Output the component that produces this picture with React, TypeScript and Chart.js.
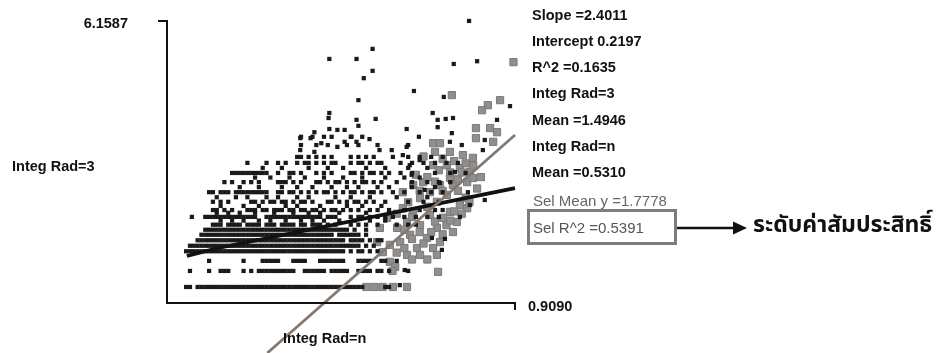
import React, { useEffect, useRef } from "react";
import { Chart, registerables } from "chart.js";
Chart.register(...registerables);

// ---------- axis extents ----------
const X_MAX = 0.909;
const Y_MAX = 6.1587;
const xAxisTitle = "Integ Rad=n";
const yAxisTitle = "Integ Rad=3";

// ---------- statistics panel ----------
const statLines = [
  "Slope =2.4011",
  "Intercept 0.2197",
  "R^2 =0.1635",
  "Integ Rad=3",
  "Mean =1.4946",
  "Integ Rad=n",
  "Mean =0.5310",
];
const selMeanText = "Sel Mean y =1.7778";
const selR2Text = "Sel R^2 =0.5391";
const thaiLabel = "ระดับค่าสัมประสิทธิ์";

// ---------- fit lines ----------
const fitX = [0.052, 0.128, 0.909];
const fitY = [1.026, 1.19, 2.511];
const selFitX = [0.262, 0.909];
const selFitY = [-1.092, 3.669];

// ---------- black points: horizontal rows (y level + x readings) ----------
const baseRows = [
  { y: 0.35, xs: [0.05,0.06,0.08,0.09,0.10,0.11,0.12,0.13,0.14,0.15,0.16,0.17,0.18,0.19,0.20,0.21,0.22,0.23,0.24,0.25,0.26,0.27,0.28,0.29,0.30,0.31,0.32,0.33,0.34,0.35,0.36,0.37,0.38,0.39,0.40,0.41,0.42,0.43,0.44,0.45,0.46,0.47,0.48,0.49,0.50,0.51,0.57,0.58] },
  { y: 0.70, xs: [0.06,0.11,0.14,0.15,0.16,0.20,0.22,0.24,0.25,0.26,0.27,0.28,0.29,0.30,0.31,0.32,0.33,0.36,0.37,0.38,0.39,0.40,0.41,0.43,0.44,0.45,0.46,0.47,0.50,0.51,0.52,0.53,0.55,0.56,0.58,0.63] },
  { y: 0.92, xs: [0.11,0.20,0.25,0.26,0.27,0.28,0.29,0.33,0.34,0.35,0.36,0.40,0.41,0.42,0.43,0.44,0.45,0.46,0.50,0.51,0.52,0.53,0.56,0.57,0.60] },
];

const bandRows = [
  { y: 1.13, xs: [0.05,0.06,0.07,0.08,0.09,0.10,0.11,0.12,0.13,0.14,0.15,0.16,0.17,0.18,0.19,0.20,0.21,0.22,0.23,0.24,0.25,0.26,0.27,0.28,0.29,0.30,0.31,0.32,0.33,0.34,0.35,0.36,0.37,0.38,0.39,0.40,0.41,0.42,0.43,0.44,0.45,0.46,0.48,0.50,0.51,0.53,0.55] },
  { y: 1.25, xs: [0.06,0.07,0.08,0.09,0.10,0.11,0.12,0.13,0.14,0.15,0.16,0.17,0.18,0.19,0.20,0.21,0.22,0.23,0.24,0.25,0.26,0.27,0.28,0.29,0.30,0.31,0.32,0.33,0.34,0.35,0.36,0.37,0.38,0.39,0.40,0.41,0.42,0.43,0.44,0.45,0.46,0.47,0.48,0.49,0.50,0.52,0.54] },
  { y: 1.37, xs: [0.08,0.09,0.10,0.11,0.12,0.13,0.14,0.15,0.16,0.17,0.18,0.19,0.20,0.21,0.22,0.23,0.24,0.25,0.26,0.27,0.28,0.29,0.30,0.31,0.32,0.33,0.34,0.35,0.36,0.37,0.38,0.39,0.40,0.41,0.42,0.43,0.44,0.45,0.46,0.48,0.49,0.50,0.51,0.53,0.55,0.56] },
  { y: 1.49, xs: [0.09,0.10,0.11,0.12,0.13,0.14,0.15,0.16,0.17,0.18,0.19,0.20,0.21,0.22,0.23,0.24,0.25,0.26,0.27,0.28,0.29,0.30,0.31,0.32,0.33,0.34,0.35,0.36,0.37,0.38,0.39,0.40,0.41,0.42,0.43,0.45,0.46,0.47,0.48,0.49,0.50,0.52] },
  { y: 1.60, xs: [0.10,0.11,0.12,0.13,0.14,0.15,0.16,0.17,0.18,0.19,0.20,0.21,0.22,0.23,0.24,0.25,0.26,0.27,0.28,0.29,0.30,0.31,0.32,0.33,0.34,0.35,0.36,0.37,0.38,0.39,0.40,0.41,0.42,0.43,0.44,0.45,0.46,0.47,0.49,0.52] },
  { y: 1.71, xs: [0.12,0.13,0.14,0.16,0.17,0.18,0.19,0.21,0.22,0.23,0.24,0.26,0.27,0.28,0.30,0.31,0.32,0.33,0.35,0.36,0.38,0.39,0.40,0.42,0.44,0.48,0.50,0.52,0.55,0.60,0.63,0.65] },
  { y: 1.80, xs: [0.14,0.17,0.20,0.24,0.27,0.31,0.35,0.38,0.41,0.45,0.49,0.53,0.57] },
];

const upperRows = [
  { y: 1.88, xs: [0.065,0.10,0.11,0.12,0.13,0.14,0.15,0.16,0.17,0.18,0.19,0.20,0.21,0.22,0.23,0.26,0.27,0.28,0.29,0.30,0.31,0.32,0.33,0.34,0.35,0.36,0.37,0.38,0.39,0.40,0.42,0.43,0.44,0.48,0.50,0.51,0.53,0.55,0.57,0.59,0.62,0.65,0.68,0.71] },
  { y: 1.97, xs: [0.13,0.16,0.19,0.23,0.28,0.33,0.37,0.40,0.45,0.52,0.58] },
  { y: 2.03, xs: [0.12,0.13,0.15,0.17,0.21,0.22,0.23,0.25,0.26,0.28,0.29,0.30,0.32,0.33,0.35,0.36,0.38,0.39,0.41,0.43,0.44,0.46,0.48,0.50,0.53,0.55,0.58,0.62,0.66,0.70,0.72] },
  { y: 2.12, xs: [0.14,0.20,0.24,0.31,0.34,0.40,0.47,0.51,0.56] },
  { y: 2.21, xs: [0.12,0.14,0.16,0.22,0.23,0.25,0.27,0.28,0.30,0.31,0.33,0.35,0.36,0.38,0.42,0.43,0.45,0.47,0.49,0.50,0.52,0.54,0.57,0.63,0.67,0.71] },
  { y: 2.31, xs: [0.13,0.18,0.21,0.26,0.29,0.34,0.37,0.44,0.48,0.53,0.60,0.68] },
  { y: 2.42, xs: [0.11,0.12,0.14,0.15,0.16,0.18,0.19,0.20,0.21,0.22,0.23,0.24,0.25,0.26,0.29,0.30,0.32,0.33,0.35,0.37,0.39,0.41,0.42,0.44,0.46,0.48,0.49,0.51,0.53,0.54,0.56,0.59,0.62,0.66,0.69,0.72] },
  { y: 2.53, xs: [0.19,0.24,0.30,0.34,0.38,0.43,0.47,0.50,0.55,0.58,0.64,0.70] },
  { y: 2.64, xs: [0.15,0.17,0.20,0.22,0.24,0.29,0.30,0.31,0.33,0.35,0.39,0.40,0.42,0.44,0.45,0.47,0.49,0.51,0.52,0.54,0.56,0.60,0.64,0.68,0.71,0.74] },
  { y: 2.74, xs: [0.23,0.27,0.32,0.36,0.41,0.46,0.51,0.57,0.62,0.66] },
  { y: 2.84, xs: [0.17,0.18,0.19,0.20,0.21,0.22,0.23,0.24,0.25,0.26,0.29,0.32,0.33,0.35,0.39,0.41,0.43,0.48,0.49,0.51,0.53,0.54,0.56,0.58,0.61,0.64,0.70,0.74,0.78] },
  { y: 2.95, xs: [0.25,0.30,0.37,0.42,0.46,0.52,0.57,0.63,0.68] },
  { y: 3.06, xs: [0.21,0.26,0.29,0.31,0.34,0.36,0.37,0.39,0.41,0.43,0.44,0.48,0.50,0.51,0.53,0.55,0.56,0.61,0.64,0.67,0.70,0.73,0.76] },
  { y: 3.19, xs: [0.34,0.35,0.37,0.39,0.41,0.43,0.48,0.50,0.52,0.54,0.59,0.63,0.66,0.69,0.72] },
  { y: 3.45, xs: [0.35,0.39,0.42,0.47,0.50,0.55,0.63] },
  { y: 3.63, xs: [0.35,0.38,0.41,0.43,0.48,0.51] },
];

// isolated black points [x, y]
const blackScatter: [number, number][] = [
  [0.789,6.16],[0.537,5.55],[0.495,5.33],[0.424,5.33],[0.537,5.07],[0.514,4.91],[0.749,5.22],[0.810,5.28],
  [0.645,4.63],[0.723,4.50],[0.500,4.43],[0.896,4.30],[0.495,4.00],[0.500,3.87],[0.545,4.02],[0.694,4.15],
  [0.707,4.00],[0.728,4.02],[0.747,4.04],[0.707,3.84],[0.744,3.71],[0.626,3.80],[0.658,3.63],[0.862,4.00],
  [0.464,3.78],[0.482,3.63],[0.529,3.58],[0.464,3.52],[0.495,3.52],[0.555,3.34],[0.587,3.34],[0.626,3.41],
  [0.830,3.56],[0.825,3.34],[0.770,3.45],[0.739,3.52],[0.424,4.15],[0.422,4.04],[0.385,3.73],[0.348,3.60],
  [0.375,3.60],[0.403,3.49],[0.424,3.80],[0.445,3.78],[0.348,3.34],[0.385,3.30],[0.445,3.41],
  [0.616,3.23],[0.634,3.01],[0.660,3.12],[0.639,2.80],[0.673,2.47],[0.791,2.14],[0.786,2.42],[0.830,2.25],
  [0.765,1.88],[0.726,1.40],[0.718,1.16],[0.692,1.42],[0.621,0.72],[0.608,0.39],[0.752,2.86],[0.713,2.62],
];

// gray (selected) squares [x, y]
const grayPoints: [number, number][] = [
  [0.905,5.26],[0.744,4.54],[0.870,4.43],[0.838,4.32],[0.823,4.21],[0.807,3.82],[0.844,3.82],[0.862,3.73],
  [0.807,3.60],[0.852,3.52],[0.695,3.49],[0.713,3.49],[0.739,3.30],[0.773,3.23],[0.799,3.17],[0.731,3.01],
  [0.765,2.95],[0.791,2.86],[0.695,3.01],[0.739,2.73],[0.713,2.58],[0.747,2.58],[0.784,2.64],[0.799,2.73],
  [0.669,2.64],[0.643,2.58],[0.687,2.42],[0.731,2.36],[0.616,2.42],[0.661,2.29],[0.705,2.21],[0.739,1.99],
  [0.765,2.14],[0.784,2.07],[0.616,2.07],[0.643,1.99],[0.687,1.92],[0.721,1.86],[0.757,1.77],[0.627,1.77],
  [0.661,1.70],[0.705,1.64],[0.747,1.55],[0.601,1.64],[0.635,1.49],[0.679,1.42],[0.713,1.33],[0.609,1.33],
  [0.653,1.20],[0.695,1.20],[0.582,1.27],[0.627,1.05],[0.661,1.05],[0.705,1.05],[0.708,0.68],[0.582,0.90],
  [0.596,0.79],[0.590,0.35],[0.627,0.35],[0.556,1.64],[0.575,1.86],[0.549,1.33],[0.564,1.11],[0.521,0.35],
  [0.542,0.35],[0.563,0.35],[0.589,0.70],[0.720,2.45],[0.760,2.45],[0.680,2.10],[0.640,1.88],[0.700,1.78],
  [0.730,1.70],[0.670,1.30],[0.620,1.20],[0.740,2.85],[0.710,2.90],[0.780,2.30],[0.750,2.00],[0.660,2.45],
  [0.650,2.80],[0.680,2.75],[0.700,2.65],[0.760,2.70],[0.770,2.85],[0.720,3.15],[0.750,3.10],[0.780,3.05],
  [0.630,2.20],[0.600,1.95],[0.620,1.60],[0.660,1.55],[0.690,1.55],[0.720,1.50],[0.640,1.40],[0.600,1.10],
  [0.640,0.95],[0.680,0.95],[0.740,1.80],[0.770,1.95],[0.790,2.20],[0.810,2.50],[0.820,2.75],[0.800,3.00],
  [0.670,3.20],[0.700,3.30],
];

function rowsToPoints(rows: { y: number; xs: number[] }[]) {
  const out: { x: number; y: number }[] = [];
  rows.forEach((r) => r.xs.forEach((x) => out.push({ x, y: r.y })));
  return out;
}

const FONT = '"Liberation Sans", Arial, sans-serif';

const decorPlugin = {
  id: "decor",
  afterDraw(chart: any) {
    const ctx: CanvasRenderingContext2D = chart.ctx;
    const { left, right, top, bottom } = chart.chartArea;
    ctx.save();
    // axes frame
    ctx.strokeStyle = "#111";
    ctx.lineWidth = 2;
    ctx.beginPath();
    ctx.moveTo(left - 9, top);
    ctx.lineTo(left, top);
    ctx.lineTo(left, bottom);
    ctx.lineTo(right, bottom);
    ctx.lineTo(right, bottom + 7);
    ctx.stroke();

    ctx.fillStyle = "#111";
    ctx.textBaseline = "middle";
    ctx.font = `bold 14.5px ${FONT}`;
    ctx.textAlign = "right";
    ctx.fillText(Y_MAX.toFixed(4), left - 39, top + 3);
    ctx.textAlign = "left";
    ctx.fillText(X_MAX.toFixed(4), right + 13, bottom + 3.5);
    ctx.fillText(yAxisTitle, 12, 167);
    ctx.fillText(xAxisTitle, 283, 339);

    // stats panel
    const sx = 532;
    statLines.forEach((t, i) => ctx.fillText(t, sx, 15.7 + i * 26.2));
    ctx.font = `15px ${FONT}`;
    ctx.fillStyle = "#666";
    ctx.fillText(selMeanText, 533, 201.7);
    ctx.fillStyle = "#555";
    ctx.fillText(selR2Text, 533, 228.5);
    ctx.strokeStyle = "#7d7d7d";
    ctx.lineWidth = 3;
    ctx.strokeRect(528.5, 210.5, 147, 33);

    // arrow
    ctx.strokeStyle = "#111";
    ctx.lineWidth = 2.5;
    ctx.beginPath();
    ctx.moveTo(677, 228);
    ctx.lineTo(736, 228);
    ctx.stroke();
    ctx.fillStyle = "#111";
    ctx.beginPath();
    ctx.moveTo(733, 221.5);
    ctx.lineTo(747, 228);
    ctx.lineTo(733, 234.5);
    ctx.closePath();
    ctx.fill();

    ctx.font = `bold 23px "Noto Sans Thai", "Noto Sans", "DejaVu Sans", sans-serif`;
    ctx.fillText(thaiLabel, 753, 227);
    ctx.restore();
  },
};

export default function App() {
  const ref = useRef<HTMLCanvasElement | null>(null);
  useEffect(() => {
    document.body.style.margin = "0";
    const canvas = ref.current;
    if (!canvas) return;
    const blackPts = [
      ...rowsToPoints(baseRows),
      ...rowsToPoints(bandRows),
      ...rowsToPoints(upperRows),
      ...blackScatter.map(([x, y]) => ({ x, y })),
    ];
    const chart = new Chart(canvas, {
      type: "scatter",
      data: {
        datasets: [
          {
            data: selFitX.map((x, i) => ({ x, y: selFitY[i] })),
            showLine: true,
            borderColor: "#85786f",
            borderWidth: 2.8,
            pointRadius: 0,
            clip: false,
          } as any,
          {
            data: fitX.map((x, i) => ({ x, y: fitY[i] })),
            showLine: true,
            borderColor: "#111",
            borderWidth: 3.8,
            pointRadius: 0,
            clip: false,
          } as any,
          {
            data: blackPts,
            pointStyle: "rect",
            pointRadius: 3,
            backgroundColor: "#1a1a1a",
            borderWidth: 0,
            clip: false,
          } as any,
          {
            data: grayPoints.map(([x, y]) => ({ x, y })),
            pointStyle: "rect",
            pointRadius: 5.1,
            backgroundColor: "#8f8f8f",
            borderColor: "#7a7a7a",
            borderWidth: 1,
            clip: false,
          } as any,
        ],
      },
      options: {
        animation: false,
        responsive: false,
        devicePixelRatio: 1,
        events: [],
        layout: { padding: { left: 167, right: 432, top: 21, bottom: 50 } },
        scales: {
          x: { type: "linear", min: 0, max: X_MAX, display: false },
          y: { type: "linear", min: 0, max: Y_MAX, display: false },
        },
        plugins: { legend: { display: false }, tooltip: { enabled: false } },
      },
      plugins: [decorPlugin],
    });
    return () => chart.destroy();
  }, []);
  return <canvas ref={ref} width={947} height={353} style={{ display: "block" }} />;
}
